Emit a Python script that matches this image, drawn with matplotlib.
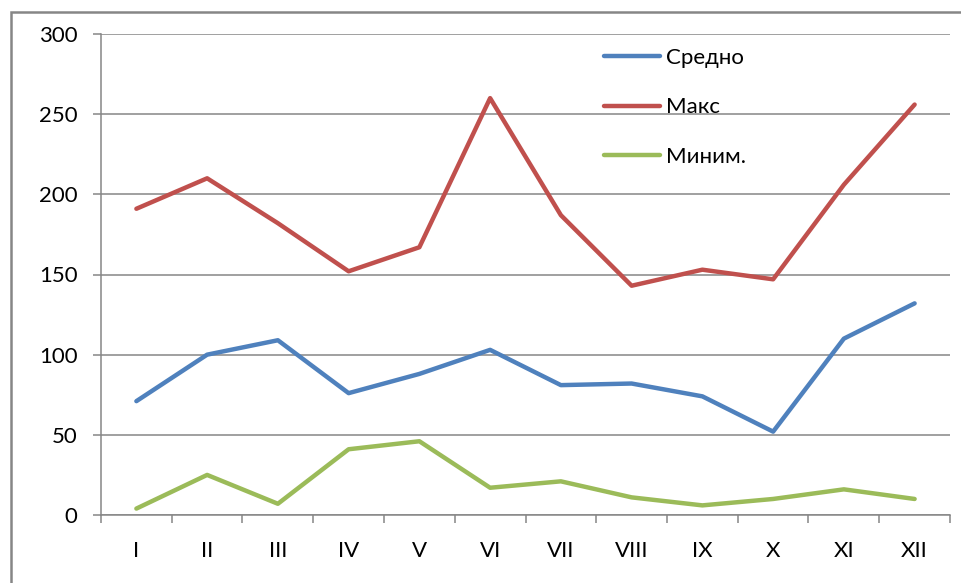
import matplotlib.pyplot as plt
import matplotlib.patches as patches
import numpy as np

plt.rcParams['font.family'] = ['Lato', 'DejaVu Sans']

months = ['I', 'II', 'III', 'IV', 'V', 'VI', 'VII', 'VIII', 'IX', 'X', 'XI', 'XII']
avg_vals = [71, 100, 109, 76, 88, 103, 81, 82, 74, 52, 110, 132]
max_vals = [191, 210, 182, 152, 167, 260, 187, 143, 153, 147, 206, 256]
min_vals = [4, 25, 7, 41, 46, 17, 21, 11, 6, 10, 16, 10]

x = np.arange(len(months))
gray = '#868686'

fig = plt.figure(figsize=(9.62, 5.83), dpi=100)
ax = fig.add_axes([101/962, 1 - 515/583, 849/962, 481/583])

ax.plot(x, avg_vals, color='#4F81BD', lw=3.2, label='Средно', solid_capstyle='round')
ax.plot(x, max_vals, color='#C0504D', lw=3.2, label='Макс', solid_capstyle='round')
ax.plot(x, min_vals, color='#9BBB59', lw=3.2, label='Миним.', solid_capstyle='round')

ax.set_xlim(-0.5, len(months) - 0.5)
ax.set_ylim(0, 300)
ax.set_yticks(np.arange(0, 301, 50))
ax.yaxis.grid(True, color=gray, lw=1.1)
ax.set_axisbelow(True)

ax.set_xticks(x)
ax.set_xticklabels(months)
ax.set_xticks(np.arange(-0.5, len(months)), minor=True)
ax.tick_params(axis='x', which='major', length=0, pad=19, labelsize=16, colors='#000000')
ax.tick_params(axis='x', which='minor', length=6, width=1.1, color=gray, direction='out')
ax.tick_params(axis='y', length=6, width=1.1, color=gray, pad=11, labelsize=16)

for s in ['top', 'right']:
    ax.spines[s].set_visible(False)
for s in ['left', 'bottom']:
    ax.spines[s].set_color(gray)
    ax.spines[s].set_linewidth(1.1)

ax.legend(loc='upper left', bbox_to_anchor=(0.593, 0.971), frameon=False,
          fontsize=16, labelspacing=1.32, handlelength=2.5, handletextpad=0.25,
          borderpad=0, borderaxespad=0)

# outer chart frame
fig.patches.append(patches.Rectangle((11/962, -0.1), 1.2, 1.1 - 12/583,
                                     transform=fig.transFigure, fill=False,
                                     edgecolor=gray, lw=1.8))

fig.savefig('out.png', dpi=100)
